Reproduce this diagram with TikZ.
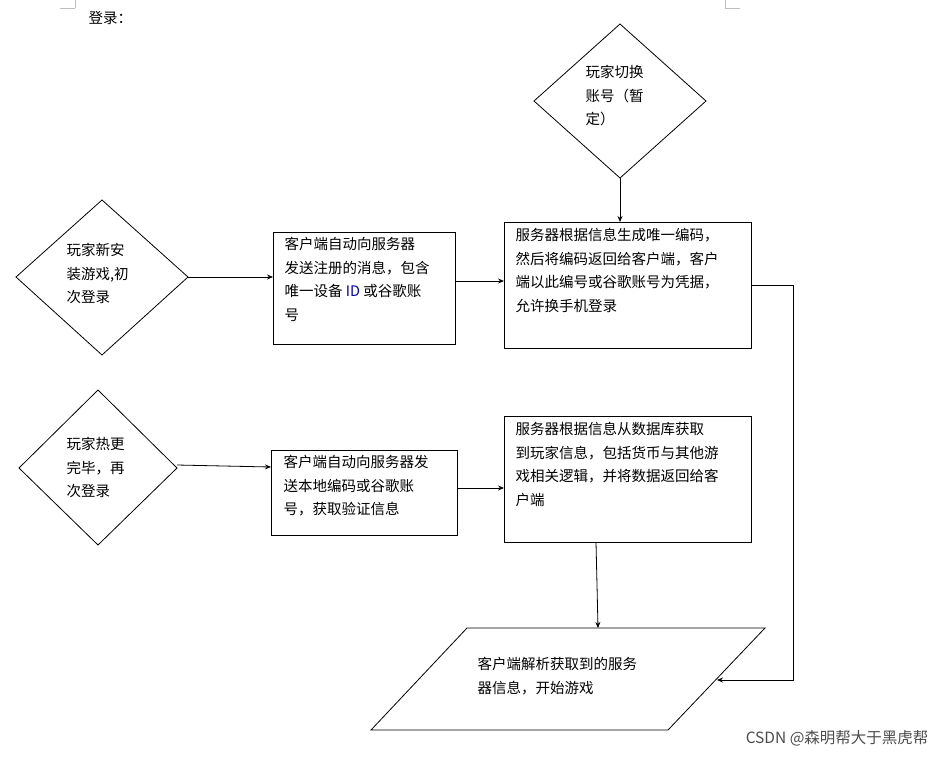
\documentclass[tikz,border=0pt]{standalone}
\usepackage{fontspec}
\setmainfont{Noto Sans CJK SC}
\usetikzlibrary{arrows.meta}
\begin{document}
\begin{tikzpicture}[x=1pt,y=-1pt,
  box/.style={draw,line width=0.8pt},
  txt/.style={font=\fontsize{14.5}{23.5}\selectfont,align=left,anchor=north west},
  arr/.style={-{Stealth[length=6pt,width=5pt]},line width=0.8pt}]
\useasboundingbox (0,0) rectangle (947,756);
\draw[gray!50] (60,8)--(75,8) (75,0)--(75,8) (725,8)--(740,8) (725,0)--(725,8);
\node[txt] (login) at (85,8) {登录：};
% diamonds
\draw[box] (16,277) -- (102,200) -- (188,277) -- (102,355) -- cycle;
\coordinate (d1r) at (188,277);
\node[txt] (d1t) at (63,240) {玩家新安\\装游戏,初\\次登录};
\draw[box] (534,101) -- (620,24) -- (706,101) -- (620,178) -- cycle;
\coordinate (d0b) at (620,178);
\node[txt] (d0t) at (582,62) {玩家切换\\账号（暂\\定）};
\draw[box] (19,468) -- (98,390) -- (177,468) -- (98,545) -- cycle;
\coordinate (d2r) at (177,465);
\node[txt] (d2t) at (63,434) {玩家热更\\完毕，再\\次登录};
% boxes
\draw[box] (273,232) rectangle (455,344);
\node[txt] (b1) at (281,234) {客户端自动向服务器\\发送注册的消息，包含\\唯一设备 {\color{blue!70!black}ID} 或谷歌账\\号};
\draw[box] (504,222) rectangle (751,348);
\node[txt] (b2) at (512,225) {服务器根据信息生成唯一编码，\\然后将编码返回给客户端，客户\\端以此编号或谷歌账号为凭据，\\允许换手机登录};
\draw[box] (271,450) rectangle (457,535);
\node[txt] (b3) at (280,452) {客户端自动向服务器发\\送本地编码或谷歌账\\号，获取验证信息};
\draw[box] (504,416) rectangle (751,542);
\node[txt] (b4) at (512,419) {服务器根据信息从数据库获取\\到玩家信息，包括货币与其他游\\戏相关逻辑，并将数据返回给客\\户端};
\draw[box] (467,628) -- (765,628) -- (668,730) -- (371,730) -- cycle;
\node[txt] (p) at (474,654) {客户端解析获取到的服务\\器信息，开始游戏};
% arrows
\draw[arr] (d0b) -- (620,222);
\draw[arr] (d1r) -- (273,277);
\draw[arr] (455,281) -- (504,281);
\draw[arr] (d2r) -- (271,467);
\draw[arr] (457,488) -- (504,488);
\draw[arr] (596,542) -- (598,628);
\draw[arr] (751,285) -- (793,285) -- (793,680) -- (717,680);
\node[font=\fontsize{15.5}{18}\selectfont,text=gray!60!black,anchor=east] (wm) at (932,738) {CSDN @森明帮大于黑虎帮};
\end{tikzpicture}
\end{document}
